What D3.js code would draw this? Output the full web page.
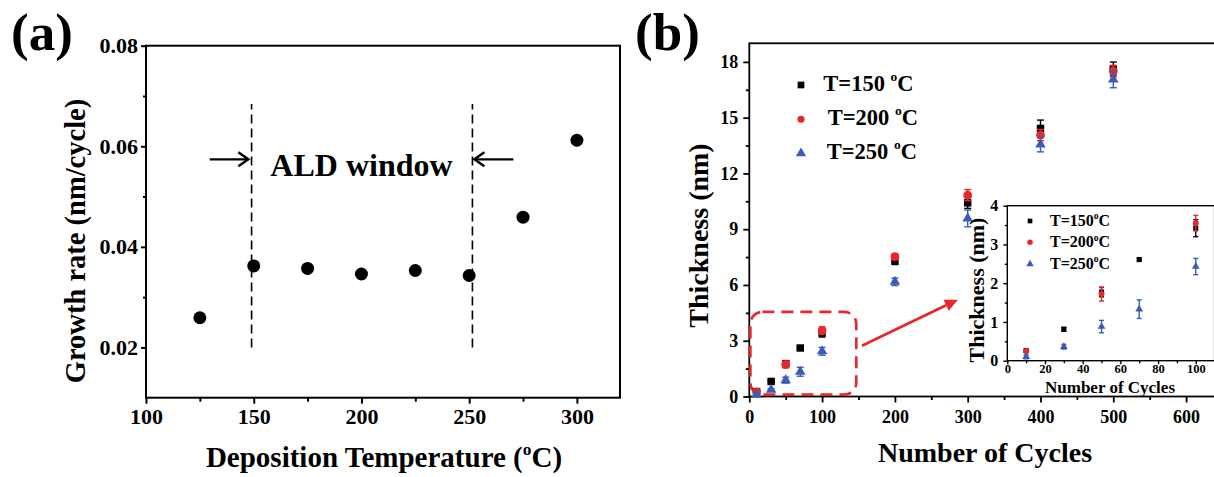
<!DOCTYPE html>
<html>
<head>
<meta charset="utf-8">
<script src="https://cdn.jsdelivr.net/npm/d3@7"></script>
<style>
  body { margin: 0; background: #fff; }
  svg { display: block; font-family: 'Liberation Serif', 'Times New Roman', serif; font-weight: bold; }
</style>
</head>
<body>
<svg width="1214" height="477"></svg>
<script>
// ---- panel (a): growth rate vs deposition temperature
const tempA = [125, 150, 175, 200, 225, 250, 275, 300];
const rateA = [0.0259, 0.0362, 0.0357, 0.0346, 0.0353, 0.0343, 0.0459, 0.0612];
const ticksAx = [100, 150, 200, 250, 300];
const minorAx = [125, 175, 225, 275];
const ticksAy = [0.02, 0.04, 0.06, 0.08];
const minorAy = [0.03, 0.05, 0.07];
const windowEdges = [149, 251.5];
const windowSpan = [0.02, 0.0684];
const arrowLeftX = [129.6, 147.5];
const arrowRightX = [270.5, 252.4];
const arrowAy = 0.0574;

// ---- panel (b): thickness vs number of cycles
const cycles150 = [10, 30, 50, 70, 100, 200, 300, 400, 500];
const thick150 = [0.26, 0.81, 1.77, 2.61, 3.42, 7.30, 10.42, 14.42, 17.64];
const err150 = [0.03, 0.05, 0.12, 0.04, 0.22, 0.2, 0.3, 0.45, 0.35];
const cycles200 = [10, 50, 100, 200, 300, 400, 500];
const thick200 = [0.25, 1.72, 3.55, 7.52, 10.83, 14.06, 17.5];
const err200 = [0.03, 0.18, 0.2, 0.15, 0.3, 0.3, 0.3];
const cycles250 = [10, 30, 50, 70, 100, 200, 300, 400, 500];
const thick250 = [0.10, 0.36, 0.88, 1.33, 2.43, 6.17, 9.58, 13.56, 17.06];
const err250 = [0.05, 0.06, 0.16, 0.24, 0.21, 0.2, 0.45, 0.4, 0.45];
const legendTemps = ['150', '200', '250'];
const ticksBx = [0, 100, 200, 300, 400, 500, 600];
const minorBx = [50, 150, 250, 350, 450, 550, 650];
const ticksBy = [0, 3, 6, 9, 12, 15, 18];
const minorBy = [1.5, 4.5, 7.5, 10.5, 13.5, 16.5];
const zoomBoxX = [1.5, 147];
const zoomBoxY = [0.1, 4.55];
const zoomArrowX = [154.7, 286.5];
const zoomArrowY = [2.73, 5.21];
// inset
const ticksIx = [0, 20, 40, 60, 80, 100];
const minorIx = [10, 30, 50, 70, 90];
const ticksIy = [0, 1, 2, 3, 4];
const minorIy = [0.5, 1.5, 2.5, 3.5];

const RED = '#e8262b', BLUE = '#3a5cb8', BLACK = '#000';

const svg = d3.select('svg');

function styleAxis(g, fs, sw) {
    g.select('.domain').remove();
    g.selectAll('.tick line').attr('stroke', '#000').attr('stroke-width', sw);
    g.selectAll('.tick text')
        .attr('fill', '#000')
        .attr('font-size', fs)
        .attr('font-family', "'Liberation Serif', serif")
        .attr('font-weight', 'bold');
}

// text with a superscript "o" before C
function degText(sel, before, after, fs) {
    sel.append('tspan').text(before);
    sel.append('tspan').attr('font-size', fs * 0.6).attr('dy', -fs * 0.42).text('o');
    sel.append('tspan').attr('dy', fs * 0.42).text(after);
}

function series(g, x, y, xs, ys, es, sym, size, color, cap) {
    let pts = xs.map((d, i) => ({x: d, y: ys[i], e: es ? es[i] : 0}));
    let eb = g.append('g').attr('stroke', color).attr('stroke-width', 1.4);
    pts.forEach(p => {
        if (!p.e) return;
        eb.append('line').attr('x1', x(p.x)).attr('x2', x(p.x)).attr('y1', y(p.y - p.e)).attr('y2', y(p.y + p.e));
        [p.y - p.e, p.y + p.e].forEach(v => {
            eb.append('line').attr('x1', x(p.x) - cap).attr('x2', x(p.x) + cap).attr('y1', y(v)).attr('y2', y(v));
        });
    });
    g.selectAll(null).data(pts).enter().append('path')
        .attr('d', d3.symbol().type(sym).size(size))
        .attr('transform', d => 'translate(' + x(d.x) + ',' + y(d.y) + ')')
        .attr('fill', color);
}

// ================= panel (a)
const xA = d3.scaleLinear().domain([100, 320]).range([146, 620]);
const yA = d3.scaleLinear().domain([0.01, 0.08]).range([397.7, 45.7]);

svg.append('text').attr('x', 11).attr('y', 50).attr('font-size', 53).text('(a)');

svg.append('rect')
    .attr('x', xA(100)).attr('y', yA(0.08))
    .attr('width', xA(320) - xA(100)).attr('height', yA(0.01) - yA(0.08))
    .attr('fill', 'none').attr('stroke', '#000').attr('stroke-width', 2);

let gax = svg.append('g').attr('transform', 'translate(0,' + yA(0.01) + ')')
    .call(d3.axisBottom(xA).tickValues(ticksAx).tickSize(6).tickPadding(5).tickFormat(d3.format('d')));
styleAxis(gax, 22, 2);
let gaxm = svg.append('g').attr('transform', 'translate(0,' + yA(0.01) + ')')
    .call(d3.axisBottom(xA).tickValues(minorAx).tickSize(4).tickFormat(''));
styleAxis(gaxm, 22, 2);
let gay = svg.append('g').attr('transform', 'translate(' + xA(100) + ',0)')
    .call(d3.axisLeft(yA).tickValues(ticksAy).tickSize(5).tickPadding(3).tickFormat(d3.format('.2f')));
styleAxis(gay, 22, 2);
let gaym = svg.append('g').attr('transform', 'translate(' + xA(100) + ',0)')
    .call(d3.axisLeft(yA).tickValues(minorAy).tickSize(3).tickFormat(''));
styleAxis(gaym, 22, 2);

// ALD window markers
windowEdges.forEach(t => {
    svg.append('line')
        .attr('x1', xA(t)).attr('x2', xA(t))
        .attr('y1', yA(windowSpan[0])).attr('y2', yA(windowSpan[1]))
        .attr('stroke', '#000').attr('stroke-width', 1.6).attr('stroke-dasharray', '9,5');
});

function openArrow(x0, x1, y) {
    let dir = Math.sign(x1 - x0);
    let g = svg.append('g').attr('stroke', '#000').attr('stroke-width', 2.4).attr('fill', 'none');
    g.append('line').attr('x1', x0).attr('x2', x1).attr('y1', y).attr('y2', y);
    g.append('path').attr('d', 'M' + (x1 - dir * 10) + ',' + (y - 7) + 'L' + x1 + ',' + y + 'L' + (x1 - dir * 10) + ',' + (y + 7));
}
openArrow(xA(arrowLeftX[0]), xA(arrowLeftX[1]), yA(arrowAy));
openArrow(xA(arrowRightX[0]), xA(arrowRightX[1]), yA(arrowAy));

svg.append('text').attr('x', xA(200)).attr('y', yA(0.054))
    .attr('text-anchor', 'middle').attr('font-size', 32).text('ALD window');

svg.selectAll('circle.pa').data(tempA).enter().append('circle')
    .attr('class', 'pa')
    .attr('cx', d => xA(d)).attr('cy', (d, i) => yA(rateA[i])).attr('r', 6.5).attr('fill', '#000');

svg.append('text').attr('transform', 'translate(85,241) rotate(-90)')
    .attr('text-anchor', 'middle').attr('font-size', 28.5).text('Growth rate (nm/cycle)');
let tA = svg.append('text').attr('x', 384).attr('y', 467).attr('text-anchor', 'middle').attr('font-size', 29);
degText(tA, 'Deposition Temperature (', 'C)', 29);

// ================= panel (b)
const xB = d3.scaleLinear().domain([0, 700]).range([749.3, 1258.9]);
const yB = d3.scaleLinear().domain([0, 19]).range([396.5, 43.3]);

svg.append('text').attr('x', 635).attr('y', 50).attr('font-size', 53).text('(b)');

svg.append('rect')
    .attr('x', xB(0)).attr('y', yB(19))
    .attr('width', xB(700) - xB(0)).attr('height', yB(0) - yB(19))
    .attr('fill', 'none').attr('stroke', '#000').attr('stroke-width', 1.8);

let gbx = svg.append('g').attr('transform', 'translate(0,' + yB(0) + ')')
    .call(d3.axisBottom(xB).tickValues(ticksBx).tickSize(6).tickPadding(8).tickFormat(d3.format('d')));
styleAxis(gbx, 18, 1.8);
let gbxm = svg.append('g').attr('transform', 'translate(0,' + yB(0) + ')')
    .call(d3.axisBottom(xB).tickValues(minorBx).tickSize(3.5).tickFormat(''));
styleAxis(gbxm, 18, 1.8);
let gby = svg.append('g').attr('transform', 'translate(' + xB(0) + ',0)')
    .call(d3.axisLeft(yB).tickValues(ticksBy).tickSize(6).tickPadding(5).tickFormat(d3.format('d')));
styleAxis(gby, 18, 1.8);
let gbym = svg.append('g').attr('transform', 'translate(' + xB(0) + ',0)')
    .call(d3.axisLeft(yB).tickValues(minorBy).tickSize(3.5).tickFormat(''));
styleAxis(gbym, 18, 1.8);

// zoom box + arrow
svg.append('rect')
    .attr('x', xB(zoomBoxX[0])).attr('y', yB(zoomBoxY[1]))
    .attr('width', xB(zoomBoxX[1]) - xB(zoomBoxX[0])).attr('height', yB(zoomBoxY[0]) - yB(zoomBoxY[1]))
    .attr('rx', 12).attr('ry', 12)
    .attr('fill', 'none').attr('stroke', RED).attr('stroke-width', 2.6).attr('stroke-dasharray', '12,7');

(function () {
    let x0 = xB(zoomArrowX[0]), y0 = yB(zoomArrowY[0]), x1 = xB(zoomArrowX[1]), y1 = yB(zoomArrowY[1]);
    let a = Math.atan2(y1 - y0, x1 - x0), L = 13, W = 6;
    let bx = x1 - L * Math.cos(a), by = y1 - L * Math.sin(a);
    svg.append('line').attr('x1', x0).attr('y1', y0).attr('x2', bx).attr('y2', by)
        .attr('stroke', RED).attr('stroke-width', 2.6);
    svg.append('path').attr('fill', RED)
        .attr('d', 'M' + x1 + ',' + y1 +
            'L' + (bx + W * Math.sin(a)) + ',' + (by - W * Math.cos(a)) +
            'L' + (bx - W * Math.sin(a)) + ',' + (by + W * Math.cos(a)) + 'Z');
})();

let gB = svg.append('g');
series(gB, xB, yB, cycles150, thick150, err150, d3.symbolSquare, 56, BLACK, 3.5);
series(gB, xB, yB, cycles200, thick200, err200, d3.symbolCircle, 60, RED, 3.5);
series(gB, xB, yB, cycles250, thick250, err250, d3.symbolTriangle, 48, BLUE, 3.5);

// legend (b)
const legSyms = [d3.symbolSquare, d3.symbolCircle, d3.symbolTriangle];
const legCols = [BLACK, RED, BLUE];
const legY = [85, 119.3, 153.3];
const legTx = [823.3, 827.7, 826.7];
legendTemps.forEach((t, i) => {
    svg.append('path').attr('d', d3.symbol().type(legSyms[i]).size([45, 40, 45][i]))
        .attr('transform', 'translate(801,' + legY[i] + ')').attr('fill', legCols[i]);
    let tx = svg.append('text').attr('x', legTx[i]).attr('y', legY[i] + 5.5).attr('font-size', 22.5);
    degText(tx, 'T=' + t + ' ', 'C', 22.5);
});

svg.append('text').attr('transform', 'translate(708,235.5) rotate(-90)')
    .attr('text-anchor', 'middle').attr('font-size', 28).text('Thickness (nm)');
svg.append('text').attr('x', 985).attr('y', 461.7).attr('text-anchor', 'middle')
    .attr('font-size', 28).text('Number of Cycles');

// ================= inset
const xI = d3.scaleLinear().domain([0, 110]).range([1007.3, 1214.6]);
const yI = d3.scaleLinear().domain([0, 4]).range([360.7, 205.7]);

svg.append('rect')
    .attr('x', xI(0)).attr('y', yI(4))
    .attr('width', xI(110) - xI(0)).attr('height', yI(0) - yI(4))
    .attr('fill', '#fff').attr('stroke', '#000').attr('stroke-width', 1.4);

let gix = svg.append('g').attr('transform', 'translate(0,' + yI(0) + ')')
    .call(d3.axisBottom(xI).tickValues(ticksIx).tickSize(3.5).tickPadding(0).tickFormat(d3.format('d')));
styleAxis(gix, 12.5, 1.4);
let gixm = svg.append('g').attr('transform', 'translate(0,' + yI(0) + ')')
    .call(d3.axisBottom(xI).tickValues(minorIx).tickSize(2.5).tickFormat(''));
styleAxis(gixm, 12.5, 1.4);
let giy = svg.append('g').attr('transform', 'translate(' + xI(0) + ',0)')
    .call(d3.axisLeft(yI).tickValues(ticksIy).tickSize(4).tickPadding(5).tickFormat(d3.format('d')));
styleAxis(giy, 16, 1.4);
let giym = svg.append('g').attr('transform', 'translate(' + xI(0) + ',0)')
    .call(d3.axisLeft(yI).tickValues(minorIy).tickSize(2.5).tickFormat(''));
styleAxis(giym, 16, 1.4);

let gI = svg.append('g');
let inN = cycles150.filter(c => c <= 100).length;
let inR = cycles200.filter(c => c <= 100).length;
series(gI, xI, yI, cycles150.slice(0, inN), thick150.slice(0, inN), err150.slice(0, inN), d3.symbolSquare, 26, BLACK, 2.5);
series(gI, xI, yI, cycles200.slice(0, inR), thick200.slice(0, inR), err200.slice(0, inR), d3.symbolCircle, 28, RED, 2.5);
series(gI, xI, yI, cycles250.slice(0, inN), thick250.slice(0, inN), err250.slice(0, inN), d3.symbolTriangle, 26, BLUE, 2.5);

const legIY = [221, 242.3, 264];
legendTemps.forEach((t, i) => {
    svg.append('path').attr('d', d3.symbol().type(legSyms[i]).size([22, 24, 24][i]))
        .attr('transform', 'translate(1030,' + legIY[i] + ')').attr('fill', legCols[i]);
    let tx = svg.append('text').attr('x', 1050).attr('y', legIY[i] + 5).attr('font-size', 16);
    degText(tx, 'T=' + t, 'C', 16);
});

svg.append('text').attr('transform', 'translate(984,290) rotate(-90)')
    .attr('text-anchor', 'middle').attr('font-size', 22).text('Thickness (nm)');
svg.append('text').attr('x', 1110).attr('y', 392.5).attr('text-anchor', 'middle')
    .attr('font-size', 17).text('Number of Cycles');
</script>
</body>
</html>
